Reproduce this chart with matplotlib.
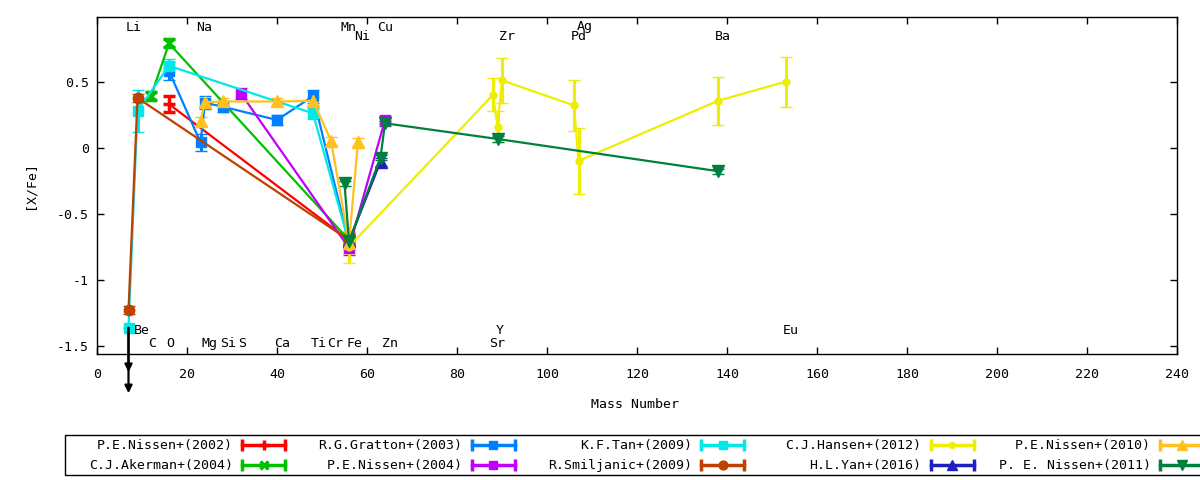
import matplotlib
matplotlib.use('Agg')
import matplotlib.pyplot as plt
from matplotlib.patches import Rectangle

plt.rcParams['font.family'] = ['DejaVu Sans Mono', 'DejaVu Sans']
plt.rcParams['font.size'] = 9.5

# mass numbers used on the x axis
# P.E.Nissen+(2002)
nissen02_x = [16, 56]
nissen02_y = [0.33, -0.70]
nissen02_e = [0.06, 0.05]
# C.J.Akerman+(2004)
akerman04_x = [12, 16, 56]
akerman04_y = [0.39, 0.79, -0.70]
akerman04_e = [0.03, 0.03, 0.03]
# R.G.Gratton+(2003)
gratton03_x = [16, 23, 24, 28, 40, 48, 56]
gratton03_y = [0.58, 0.04, 0.34, 0.31, 0.21, 0.39, -0.72]
gratton03_e = [0.07, 0.065, 0.05, 0.04, 0.04, 0.05, 0.05]
# P.E.Nissen+(2004)
nissen04_x = [32, 56, 64]
nissen04_y = [0.41, -0.76, 0.21]
nissen04_e = [0.04, 0.05, 0.03]
# K.F.Tan+(2009)
tan09_x = [7, 9, 16, 48, 56]
tan09_y = [-1.365, 0.28, 0.62, 0.26, -0.72]
tan09_e = [0.0, 0.16, 0.05, 0.04, 0.05]
# R.Smiljanic+(2009)
smiljanic09_x = [7, 9, 56]
smiljanic09_y = [-1.23, 0.377, -0.70]
smiljanic09_e = [0.03, 0.03, 0.03]
# C.J.Hansen+(2012)
hansen12_x = [56, 88, 89, 90, 106, 107, 138, 153]
hansen12_y = [-0.75, 0.40, 0.16, 0.51, 0.32, -0.10, 0.355, 0.50]
hansen12_e = [0.12, 0.125, 0.12, 0.17, 0.19, 0.25, 0.18, 0.19]
# H.L.Yan+(2016)
yan16_x = [56, 63]
yan16_y = [-0.71, -0.105]
yan16_e = [0.03, 0.03]
# P.E.Nissen+(2010)
nissen10_x = [23, 24, 28, 40, 48, 52, 56, 58]
nissen10_y = [0.20, 0.345, 0.35, 0.35, 0.355, 0.053, -0.72, 0.045]
nissen10_e = [0.03, 0.03, 0.03, 0.03, 0.03, 0.03, 0.08, 0.03]
# P. E. Nissen+(2011)
nissen11_x = [55, 56, 63, 64, 89, 138]
nissen11_y = [-0.27, -0.71, -0.075, 0.185, 0.066, -0.178]
nissen11_e = [0.02, 0.02, 0.02, 0.02, 0.02, 0.02]

# label, x, y, err, colour, marker, marker size, marker edge width
series = [
    ('P.E.Nissen+(2002)', nissen02_x, nissen02_y, nissen02_e, '#ff0000', '+', 8.5, 2.5),
    ('C.J.Akerman+(2004)', akerman04_x, akerman04_y, akerman04_e, '#00c000', 'x', 7, 2.5),
    ('R.G.Gratton+(2003)', gratton03_x, gratton03_y, gratton03_e, '#0080ff', 's', 7, 1),
    ('P.E.Nissen+(2004)', nissen04_x, nissen04_y, nissen04_e, '#c000ff', 's', 7, 1),
    ('K.F.Tan+(2009)', tan09_x, tan09_y, tan09_e, '#00e8e8', 's', 7, 1),
    ('R.Smiljanic+(2009)', smiljanic09_x, smiljanic09_y, smiljanic09_e, '#c04000', 'o', 7.5, 1),
    ('C.J.Hansen+(2012)', hansen12_x, hansen12_y, hansen12_e, '#eeee00', 'o', 5, 1),
    ('H.L.Yan+(2016)', yan16_x, yan16_y, yan16_e, '#2020c0', '^', 8, 1),
    ('P.E.Nissen+(2010)', nissen10_x, nissen10_y, nissen10_e, '#ffc020', '^', 8.5, 1),
    ('P. E. Nissen+(2011)', nissen11_x, nissen11_y, nissen11_e, '#008040', 'v', 8.5, 1),
]

# element labels
top_labels = ['Li', 'Na', 'Mn', 'Ni', 'Cu', 'Zr', 'Ag', 'Pd', 'Ba']
top_x = [8.1, 23.9, 55.8, 59.0, 64.1, 91.0, 108.3, 107.0, 139.1]
top_y = [0.914, 0.914, 0.914, 0.839, 0.914, 0.839, 0.917, 0.84, 0.839]
bottom_labels = ['Be', 'Y', 'Eu', 'C', 'O', 'Mg', 'Si', 'S', 'Ca', 'Ti', 'Cr', 'Fe', 'Zn', 'Sr']
bottom_x = [10.0, 89.4, 154.1, 12.3, 16.3, 25.1, 29.1, 32.2, 41.1, 49.2, 53.0, 57.2, 65.2, 89.0]
bottom_y = [-1.383, -1.383, -1.383, -1.487, -1.487, -1.487, -1.487, -1.487, -1.487,
            -1.487, -1.487, -1.487, -1.487, -1.487]

# upper limit on Li (K.F.Tan)
limit_x = 7
limit_from = -1.365
limit_to = [-1.70, -1.86]

xticks = [0, 20, 40, 60, 80, 100, 120, 140, 160, 180, 200, 220, 240]
yticks = [-1.5, -1, -0.5, 0, 0.5]
ytick_labels = ['-1.5', '-1', '-0.5', '0', '0.5']

W, H = 1200, 480
fig = plt.figure(figsize=(W / 100, H / 100), dpi=100)
ax = fig.add_axes([97 / W, 1 - 354 / H, 1080 / W, 337 / H])

for label, x, y, e, c, m, ms, mew in series:
    ax.errorbar(x, y, yerr=e, color=c, marker=m, ms=ms, mew=mew, lw=1.6,
                elinewidth=2.2, capsize=4, capthick=2.2)

for t_to in limit_to:
    ann = ax.annotate('', xy=(limit_x, t_to), xytext=(limit_x, limit_from),
                      arrowprops=dict(arrowstyle='-|>', color='black', lw=1.6,
                                      mutation_scale=11, shrinkA=0, shrinkB=0),
                      annotation_clip=False)
    ann.arrow_patch.set_clip_on(False)

for s, x, y in zip(top_labels, top_x, top_y):
    ax.text(x, y, s, ha='center', va='center')
for s, x, y in zip(bottom_labels, bottom_x, bottom_y):
    ax.text(x, y, s, ha='center', va='center')

ax.set_xlim(0, 240)
ax.set_ylim(-1.563, 0.99)
ax.set_xticks(xticks)
ax.set_yticks(yticks)
ax.set_yticklabels(ytick_labels)
ax.tick_params(direction='in', top=True, right=True, length=5, width=1)
ax.tick_params(axis='x', pad=10)
ax.tick_params(axis='y', pad=6)
for sp in ax.spines.values():
    sp.set_linewidth(1)

fig.text(635 / W, 1 - 404 / H, 'Mass Number', ha='center', va='center')
fig.text(30 / W, 1 - 185 / H, '[X/Fe]', ha='center', va='center', rotation=90)

# legend box below the plot (drawn by hand to right-align the texts)
lax = fig.add_axes([65 / W, 1 - 475 / H, 1200 / W, 40 / H])
lax.set_xlim(65, 1265)
lax.set_ylim(475, 435)
lax.set_axis_off()
lax.add_patch(Rectangle((65, 435), 1199, 40, fill=False, lw=1, ec='black', clip_on=False))
for i, (label, x, y, e, c, m, ms, mew) in enumerate(series):
    col, row = divmod(i, 2)
    xs = 242 + 229.5 * col
    yy = 445 + 20 * row
    lax.text(xs - 9, yy, label, ha='right', va='center')
    lax.plot([xs, xs + 43], [yy, yy], color=c, lw=2.5, clip_on=False)
    lax.plot([xs, xs + 43], [yy, yy], ls='none', marker='|', ms=8, mew=2.5, color=c, clip_on=False)
    lax.plot([xs + 21.5], [yy], ls='none', marker=m, ms=ms * 0.85, mew=mew, color=c, clip_on=False)

fig.savefig('out.png', dpi=100)
